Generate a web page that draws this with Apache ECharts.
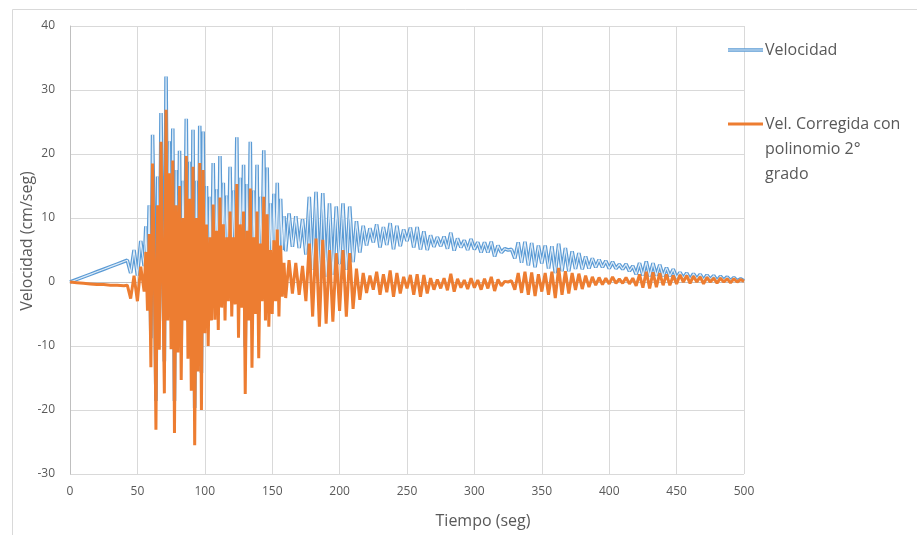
<!DOCTYPE html>
<html>
<head>
<meta charset="utf-8">
<script src="https://cdn.jsdelivr.net/npm/echarts@6/dist/echarts.min.js"></script>
<style>
  html, body { margin: 0; padding: 0; background: #ffffff; }
  #chart { width: 917px; height: 535px; }
</style>
</head>
<body>
<div id="chart"></div>
<script>
// Tiempo de registro (seg)
const tiempo = [
  0, 5, 10, 15, 20, 25, 30, 35, 40, 42.5,
  45, 47.5, 50, 52.5,
  55, 56.25, 57.5, 58.75, 60, 61.25, 62.5, 63.75, 65, 66.25,
  67.5, 68.75, 70, 71.25, 72.5, 73.75, 75, 76.25, 77.5, 78.75,
  80, 81.25, 82.5, 83.75, 85, 86.25, 87.5, 88.75, 90, 91.25,
  92.5, 93.75, 95, 96.25, 97.5, 98.75, 100, 101.25, 102.5, 103.75,
  105, 106.25, 107.5, 108.75, 110, 111.25, 112.5, 113.75, 115, 116.25,
  117.5, 118.75, 120, 121.25, 122.5, 123.75, 125, 126.25, 127.5, 128.75,
  130, 131.25, 132.5, 133.75, 135, 136.25, 137.5, 138.75, 140, 141.25,
  142.5, 143.75, 145, 146.25, 147.5, 148.75, 150, 151.25, 152.5, 153.75,
  155, 156.25, 157.5, 158.75, 160,
  162.5, 165, 167.5,
  170, 172.5, 175, 177.5, 180, 182.5, 185, 187.5, 190, 192.5,
  195, 197.5, 200, 202.5, 205, 207.5, 210, 212.5, 215, 217.5,
  220, 222.5, 225, 227.5, 230, 232.5, 235, 237.5, 240, 242.5,
  245, 247.5, 250, 252.5, 255, 257.5, 260, 262.5, 265, 267.5,
  270, 272.5, 275, 277.5, 280, 282.5, 285, 287.5, 290, 292.5,
  295, 297.5, 300, 302.5, 305, 307.5, 310, 312.5, 315, 317.5,
  320, 322.5, 325, 327.5, 330, 332.5, 335, 337.5, 340, 342.5,
  345, 347.5, 350, 352.5, 355, 357.5, 360, 362.5, 365, 367.5,
  370, 372.5, 375, 377.5, 380, 382.5, 385, 387.5, 390, 392.5,
  395, 397.5, 400, 402.5, 405, 407.5, 410, 412.5, 415, 417.5,
  420, 422.5, 425, 427.5, 430, 432.5, 435, 437.5, 440, 442.5,
  445, 447.5, 450, 452.5, 455, 457.5, 460, 462.5, 465, 467.5,
  470, 472.5, 475, 477.5, 480, 482.5, 485, 487.5, 490, 492.5,
  495, 497.5, 500
];

// Velocidad integrada (cm/seg)
const velocidad = [
  0, 0.4, 0.8, 1.2, 1.6, 2.0, 2.4, 2.8, 3.2, 3.4,
  1.4, 5.0, 1.0, 6.4,
  2.5, 8.7, -0.5, 12.0, -8.8, 23.0, 7.5, -18.6, 16.5, -6.1,
  26.4, 7.0, -12.4, 32.1, -1.0, 22.0, -5.5, 24.0, -18.6, 17.5,
  -5.5, 20.5, -9.5, 15.8, -0.2, 25.5, -6.2, 18.8, -11.2, 23.8,
  -19.7, 15.8, -8.2, 24.4, -14.2, 23.5, -2.0, 15.0, -3.7, 13.3,
  0.5, 18.6, 0.6, 14.5, -1.0, 19.7, 2.5, 15.5, 0.5, 13.5,
  4.0, 18.0, 1.9, 14.3, 3.8, 22.6, -1.4, 16.3, 3.3, 18.3,
  -10.2, 15.3, 1.3, 21.9, -6.1, 14.3, 2.3, 18.3, -4.6, 13.3,
  4.3, 20.6, 1.3, 17.9, 0.3, 12.3, 2.3, 13.8, 4.3, 15.5,
  1.9, 13.0, 5.0, 10.3, 4.8,
  10.7, 5.5, 10.3,
  5.3, 9.8, 4.3, 13.3, 1.9, 14.1, 0.3, 13.9, 0.8, 12.3,
  1.1, 11.8, 2.8, 12.3, 1.9, 11.8, 3.1, 9.5, 4.6, 8.8,
  5.7, 8.4, 6.2, 9.0, 5.4, 8.6, 5.8, 9.2, 5.1, 8.8,
  5.6, 8.2, 6.4, 8.5, 5.4, 8.6, 5.1, 7.9, 5.0, 7.3,
  5.5, 7.0, 5.6, 7.1, 5.2, 7.7, 4.9, 6.8, 5.4, 6.5,
  5.0, 6.7, 5.1, 6.2, 4.6, 6.2, 4.6, 6.3, 4.0, 5.7,
  4.6, 5.2, 5.0, 5.1, 3.7, 6.2, 3.0, 6.3, 2.6, 6.1,
  2.3, 5.7, 2.9, 5.7, 2.1, 5.6, 1.4, 6.0, 1.7, 5.3,
  1.7, 4.8, 2.05, 4.5, 2.0, 4.0, 2.1, 3.7, 2.3, 3.5,
  2.3, 3.3, 2.1, 3.15, 2.1, 2.75, 2.0, 2.8, 1.7, 2.5,
  1.2, 2.95, 1.0, 3.2, 0.9, 2.95, 1.0, 2.7, 0.9, 2.25,
  0.9, 2.0, 0.65, 1.5, 0.6, 1.4, 0.4, 1.3, 0.5, 1.2,
  0.3, 1.1, 0.4, 1.0, 0.2, 0.9, 0.3, 0.8, 0.2, 0.7,
  0.2, 0.5, 0.2
];

// Velocidad corregida con polinomio de 2° grado (cm/seg)
const velCorregida = [
  0, -0.1, -0.2, -0.3, -0.4, -0.4, -0.5, -0.5, -0.6, -0.5,
  -2.6, 1.0, -3.0, 2.4,
  -1.5, 4.7, -4.5, 7.5, -13.3, 18.5, 3.0, -23.1, 12.0, -10.6,
  21.9, 2.0, -17.4, 26.9, -6.0, 17.0, -10.5, 19.0, -23.6, 12.0,
  -11.0, 15.0, -15.3, 10.0, -6.0, 19.7, -12.0, 13.0, -17.0, 18.0,
  -25.5, 10.0, -14.0, 18.6, -20.0, 17.5, -8.0, 9.0, -10.0, 7.0,
  -6.0, 12.1, -5.9, 8.0, -7.5, 13.2, -4.0, 9.0, -6.0, 7.0,
  -3.0, 11.0, -5.4, 7.0, -3.5, 15.3, -8.7, 9.0, -4.0, 11.0,
  -17.5, 8.0, -6.0, 14.6, -13.4, 7.0, -5.0, 11.0, -11.9, 6.0,
  -3.0, 13.3, -6.0, 10.6, -7.0, 5.0, -5.0, 6.5, -3.0, 8.2,
  -5.4, 5.7, -2.3, 3.0, -2.5,
  3.4, -1.8, 3.0,
  -2.0, 2.5, -3.0, 6.0, -5.4, 6.8, -7.0, 6.6, -6.5, 5.0,
  -6.2, 4.5, -4.5, 5.0, -5.4, 4.5, -4.2, 2.1, -2.8, 1.4,
  -1.7, 1.0, -1.2, 1.6, -2.0, 1.2, -1.6, 1.8, -2.3, 1.4,
  -1.8, 0.8, -1.0, 1.1, -2.0, 1.2, -2.3, 1.1, -1.8, 0.6,
  -1.2, 0.4, -1.0, 0.6, -1.3, 1.3, -1.5, 0.5, -0.9, 0.3,
  -1.1, 0.6, -0.9, 0.3, -1.2, 0.5, -1.0, 0.8, -1.4, 0.4,
  -0.6, 0.1, 0.0, 0.2, -1.2, 1.4, -1.7, 1.6, -2.0, 1.5,
  -2.2, 1.2, -1.5, 1.4, -2.0, 1.6, -2.5, 2.2, -2.0, 1.7,
  -1.8, 1.4, -1.25, 1.3, -1.1, 1.0, -0.8, 0.8, -0.5, 0.7,
  -0.4, 0.6, -0.3, 0.8, -0.2, 0.5, -0.2, 0.7, -0.3, 0.6,
  -0.6, 1.2, -0.9, 1.6, -1.0, 1.5, -0.8, 1.4, -0.5, 1.2,
  -0.5, 1.0, -0.3, 1.1, 0.0, 1.0, -0.2, 0.9, 0.0, 0.8,
  -0.3, 0.7, 0.0, 0.6, -0.2, 0.6, 0.0, 0.5, -0.1, 0.5,
  0.0, 0.4, 0.1
];

const nombreSerie1 = 'Velocidad';
const nombreSerie2 = 'Vel. Corregida con\npolinomio 2°\ngrado';
const ejeX = { min: 0, max: 500, interval: 50 };
const ejeY = { min: -30, max: 40, interval: 10 };

const AZUL = '#5B9BD5';
const NARANJA = '#ED7D31';
const GRIS_TEXTO = '#595959';
const FUENTE = '"Open Sans", "Noto Sans", sans-serif';

const pares = vals => tiempo.map((t, i) => [t, vals[i]]);

const chart = echarts.init(document.getElementById('chart'), null, { renderer: 'canvas' });

chart.setOption({
  animation: false,
  backgroundColor: '#ffffff',
  textStyle: { fontFamily: FUENTE },
  grid: { left: 70, right: 173, top: 26, bottom: 61 },
  xAxis: {
    type: 'value',
    min: ejeX.min, max: ejeX.max, interval: ejeX.interval,
    axisLine: { show: true, lineStyle: { color: '#bfbfbf', width: 1 } },
    axisTick: { show: false },
    axisLabel: { color: GRIS_TEXTO, fontSize: 12, margin: 12, fontFamily: FUENTE },
    splitLine: { show: true, lineStyle: { color: '#d9d9d9', width: 1 } }
  },
  yAxis: {
    type: 'value',
    min: ejeY.min, max: ejeY.max, interval: ejeY.interval,
    axisLine: { show: true, lineStyle: { color: '#bfbfbf', width: 1 } },
    axisTick: { show: false },
    axisLabel: { color: GRIS_TEXTO, fontSize: 12, margin: 15, fontFamily: FUENTE },
    splitLine: { show: true, lineStyle: { color: '#d9d9d9', width: 1 } }
  },
  series: [
    {
      name: nombreSerie1,
      type: 'line',
      data: pares(velocidad),
      showSymbol: false,
      symbol: 'none',
      lineStyle: { color: AZUL, width: 3.6 },
      z: 2
    },
    {
      // trazo interior claro: línea doble
      name: nombreSerie1 + ' (interior)',
      type: 'line',
      data: pares(velocidad),
      showSymbol: false,
      symbol: 'none',
      lineStyle: { color: 'rgba(255,255,255,0.8)', width: 1.2 },
      z: 3,
      silent: true
    },
    {
      name: nombreSerie2,
      type: 'line',
      data: pares(velCorregida),
      showSymbol: false,
      symbol: 'none',
      lineStyle: { color: NARANJA, width: 3 },
      z: 4
    }
  ],
  graphic: [
    // marco del área del gráfico
    {
      type: 'rect', left: 10, top: 7, silent: true,
      shape: { x: 0.5, y: 0.5, width: 930, height: 560 },
      style: { fill: 'none', stroke: '#d9d9d9', lineWidth: 1 }
    },
    // títulos de ejes
    {
      type: 'text', x: 483, y: 521, silent: true,
      style: { text: 'Tiempo (seg)', fill: GRIS_TEXTO, font: '16px ' + FUENTE, align: 'center', verticalAlign: 'middle' }
    },
    {
      type: 'text', x: 27, y: 241, rotation: Math.PI / 2, silent: true,
      style: { text: 'Velocidad (cm/seg)', fill: GRIS_TEXTO, font: '16px ' + FUENTE, align: 'center', verticalAlign: 'middle' }
    },
    // leyenda
    {
      type: 'line', silent: true, z: 10,
      shape: { x1: 728, y1: 50, x2: 763, y2: 50 },
      style: { stroke: AZUL, lineWidth: 3.6 }
    },
    {
      type: 'line', silent: true, z: 11,
      shape: { x1: 728, y1: 50, x2: 763, y2: 50 },
      style: { stroke: 'rgba(255,255,255,0.8)', lineWidth: 1.2 }
    },
    {
      type: 'text', x: 765, y: 50, silent: true, z: 10,
      style: { text: nombreSerie1, fill: GRIS_TEXTO, font: '16px ' + FUENTE, align: 'left', verticalAlign: 'middle' }
    },
    {
      type: 'line', silent: true, z: 10,
      shape: { x1: 728, y1: 124, x2: 763, y2: 124 },
      style: { stroke: NARANJA, lineWidth: 3 }
    },
    {
      type: 'text', x: 765, y: 111.5, silent: true, z: 10,
      style: { text: nombreSerie2, fill: GRIS_TEXTO, font: '16px ' + FUENTE, lineHeight: 25, align: 'left', verticalAlign: 'top' }
    }
  ]
});
</script>
</body>
</html>
